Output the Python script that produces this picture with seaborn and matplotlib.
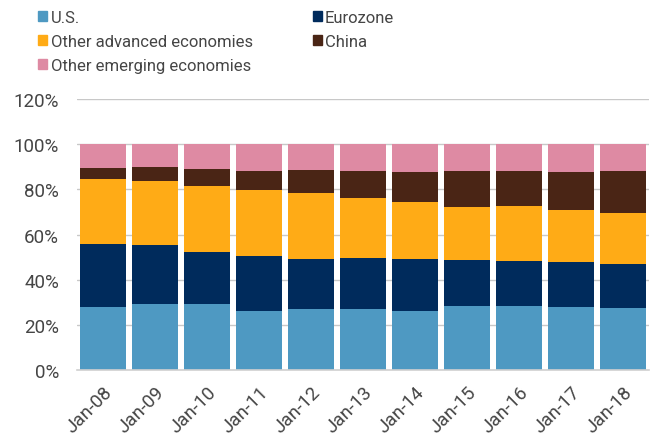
import numpy as np
import pandas as pd
import seaborn as sns
from matplotlib import pyplot as plt
from matplotlib.patches import Patch
from matplotlib.ticker import PercentFormatter

# Share of global total by region (%)
years = ["Jan-08", "Jan-09", "Jan-10", "Jan-11", "Jan-12", "Jan-13",
         "Jan-14", "Jan-15", "Jan-16", "Jan-17", "Jan-18"]
us = [28.0, 29.1, 29.1, 26.0, 27.0, 26.8, 26.1, 28.2, 28.2, 27.9, 27.6]
eurozone = [28.0, 26.4, 23.0, 24.4, 22.3, 22.8, 22.9, 20.3, 19.9, 19.9, 19.3]
other_adv = [28.4, 28.1, 29.2, 29.2, 29.3, 26.4, 25.2, 23.6, 24.5, 23.1, 22.6]
china = [5.0, 6.4, 7.6, 8.4, 9.9, 12.0, 13.4, 15.9, 15.4, 16.7, 18.5]
other_em = [10.6, 10.0, 11.1, 12.0, 11.5, 12.0, 12.4, 12.0, 12.0, 12.4, 12.0]

names = ["U.S.", "Eurozone", "Other advanced economies", "China", "Other emerging economies"]
colors = ["#4E99C2", "#002B5C", "#FFAB16", "#4A2515", "#DE8AA3"]

sns.set_style("white")
plt.rcParams["font.family"] = ["Roboto", "DejaVu Sans"]
txt = "#454545"

df = pd.DataFrame({"year": years, "U.S.": us, "Eurozone": eurozone,
                   "Other advanced economies": other_adv, "China": china,
                   "Other emerging economies": other_em})
cum = df[names].cumsum(axis=1) / 100.0

fig = plt.figure(figsize=(6.5, 4.39), dpi=100)
ax = fig.add_axes([0.1185, 0.155, 0.880, 0.617])

# draw cumulative totals from the top down so the layers stack
for name, col in reversed(list(zip(names, colors))):
    sns.barplot(x=df["year"], y=cum[name], color=col, width=0.9,
                saturation=1, linewidth=0, ax=ax, zorder=2)

ax.set_xlim(-0.5, 10.5)
ax.set_ylim(0, 1.2)
ax.set_yticks(np.arange(0, 1.21, 0.2))
ax.yaxis.set_major_formatter(PercentFormatter(1.0, decimals=0))
ax.grid(axis="y", color="#C8C8C8", linewidth=1, zorder=0)
ax.set_axisbelow(True)
for s in ["top", "right", "left"]:
    ax.spines[s].set_visible(False)
ax.spines["bottom"].set_color("#D0D0D0")
ax.spines["bottom"].set_linewidth(1.2)
ax.set_xlabel("")
ax.set_ylabel("")
ax.tick_params(axis="both", length=0, labelsize=13.5, colors=txt)
ax.tick_params(axis="y", pad=13)
ax.tick_params(axis="x", pad=9)
plt.setp(ax.get_xticklabels(), rotation=45, ha="right", rotation_mode="anchor")

handles = [Patch(color=c) for c in colors]
leg_kw = dict(loc="upper left", frameon=False, fontsize=12, borderpad=0,
              handlelength=0.55, handleheight=0.55, handletextpad=0.2,
              labelspacing=0.54, labelcolor=txt)
leg1 = fig.legend([handles[i] for i in [0, 2, 4]], [names[i] for i in [0, 2, 4]],
                  bbox_to_anchor=(0.046, 0.994), **leg_kw)
leg2 = fig.legend([handles[i] for i in [1, 3]], [names[i] for i in [1, 3]],
                  bbox_to_anchor=(0.468, 0.994), **leg_kw)

fig.savefig("out.png", dpi=100)
